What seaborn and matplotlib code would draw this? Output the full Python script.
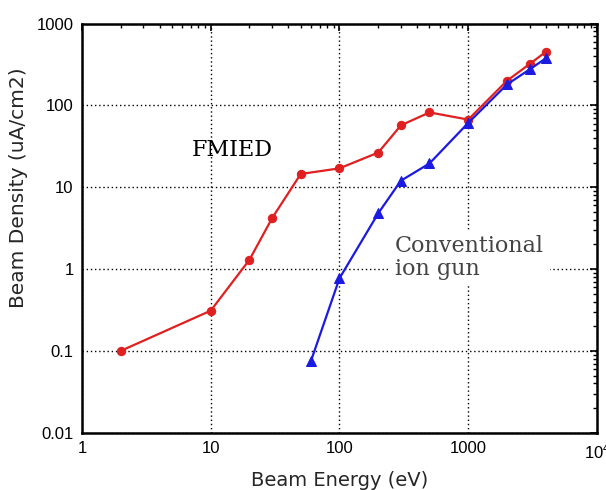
import numpy as np
import pandas as pd
import matplotlib
matplotlib.use("Agg")
import matplotlib.pyplot as plt
import seaborn as sns
from matplotlib.ticker import FixedLocator, LogLocator, NullFormatter

# FMIED series
fmied_energy = [2, 10, 20, 30, 50, 100, 200, 300, 500, 1000, 2000, 3000, 4000]
fmied_density = [0.1, 0.31, 1.3, 4.2, 14.5, 17, 26.5, 57, 82, 67, 200, 320, 450]

# conventional ion gun series
conv_energy = [60, 100, 200, 300, 500, 1000, 2000, 3000, 4000]
conv_density = [0.075, 0.77, 4.8, 12, 19.5, 61, 180, 275, 375]

x_ticks = [1, 10, 100, 1000, 10000]
x_labels = ["1", "10", "100", "1000", "$10^4$"]
y_ticks = [0.01, 0.1, 1, 10, 100, 1000]
y_labels = ["0.01", "0.1", "1", "10", "100", "1000"]

sns.set_style("white")
plt.rcParams["font.family"] = ["Liberation Sans", "DejaVu Sans"]
plt.rcParams["mathtext.fontset"] = "custom"
plt.rcParams["mathtext.rm"] = "Liberation Sans"
plt.rcParams["mathtext.it"] = "Liberation Sans"

fmied = pd.DataFrame({"energy": fmied_energy, "density": fmied_density})
conv = pd.DataFrame({"energy": conv_energy, "density": conv_density})

fig = plt.figure(figsize=(6.06, 4.9), dpi=100)
ax = fig.add_axes([0.1353, 0.1169, 0.8498, 0.8351])

sns.lineplot(data=fmied, x="energy", y="density", ax=ax, color="#e02020",
             marker="o", markersize=6, markeredgecolor="#e02020", linewidth=1.6)
sns.lineplot(data=conv, x="energy", y="density", ax=ax, color="#1a1ae0",
             marker="^", markersize=7, markeredgecolor="#1a1ae0", linewidth=1.6)

ax.set_xscale("log")
ax.set_yscale("log")
ax.set_xlim(1, 10000)
ax.set_ylim(0.01, 1000)

ax.xaxis.set_major_locator(FixedLocator(x_ticks))
ax.set_xticklabels(x_labels)
ax.yaxis.set_major_locator(FixedLocator(y_ticks))
ax.set_yticklabels(y_labels)
ax.xaxis.set_minor_locator(LogLocator(base=10, subs=np.arange(2, 10), numticks=20))
ax.yaxis.set_minor_locator(LogLocator(base=10, subs=np.arange(2, 10), numticks=20))
ax.xaxis.set_minor_formatter(NullFormatter())
ax.yaxis.set_minor_formatter(NullFormatter())

ax.grid(True, which="major", color="black", linestyle=(0, (1, 2)), linewidth=1.0)
ax.set_axisbelow(True)
ax.tick_params(which="both", direction="in", top=True, right=True, colors="black")
ax.tick_params(which="major", length=5, width=1.2, labelsize=12, pad=6)
ax.tick_params(which="minor", length=3, width=1.0)
for s in ax.spines.values():
    s.set_color("black")
    s.set_linewidth(1.8)

lab_font = ["DejaVu Sans"]
ax.set_xlabel("Beam Energy (eV)", fontsize=14, family=lab_font)
ax.set_ylabel("Beam Density (uA/cm2)", fontsize=14.5, family=lab_font)
ax.xaxis.set_label_coords(0.5, -0.093)
ax.yaxis.set_label_coords(-0.105, 0.598)

serif = ["DejaVu Serif"]
ax.text(0.291, 0.691, "FMIED", transform=ax.transAxes, fontsize=16,
        family=serif, color="black", ha="center", va="center")
ax.text(0.608, 0.482, "Conventional\nion gun", transform=ax.transAxes, fontsize=16,
        family=serif, color="#444444", ha="left", va="top", linespacing=1.05,
        bbox=dict(facecolor="white", edgecolor="none", pad=4))

fig.savefig("out.png", dpi=100)
